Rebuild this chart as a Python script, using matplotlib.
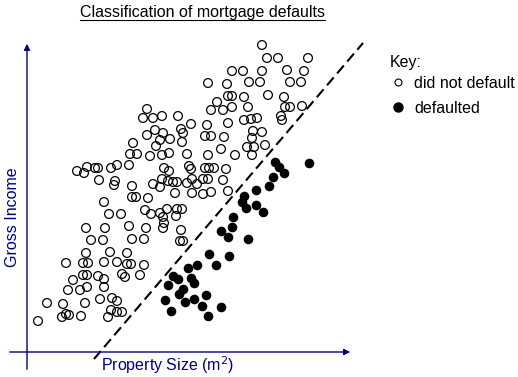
import numpy as np
import matplotlib
matplotlib.use("Agg")
import matplotlib.pyplot as plt
from matplotlib.lines import Line2D

plt.rcParams['font.family'] = ['Liberation Sans', 'DejaVu Sans']

navy = "#000080"

# applicants who did not default (property size, gross income) - arbitrary units
ok_size = [235, 240, 251, 281, 205, 216, 235, 260, 277, 181, 200, 222, 233, 263, 274,
           201, 205, 217, 241, 257, 190, 184, 196, 205, 221, 258, 263, 275,
           120, 116, 126, 135, 151, 164, 180, 201, 217, 224, 230, 254, 255,
           154, 156, 128, 120, 136, 178, 184, 197, 226, 235, 225,
           106, 129, 133, 143, 155, 103, 110, 123, 135, 142, 160, 181, 194, 208,
           220, 227, 238, 225,
           50, 57, 60, 68, 71, 84, 90, 102, 137, 142, 162, 164, 178, 182, 187, 199,
           72, 88, 87, 105, 126, 133, 135, 141, 146, 150, 160, 165, 170, 176, 181, 196,
           148, 77, 105, 109, 121, 165, 176, 184, 201,
           82, 94, 118, 124, 133, 140, 150, 155, 149, 136, 137,
           59, 78, 102, 119, 136, 154, 64, 76, 105, 117, 153, 156,
           59, 83, 100, 39, 56, 61, 77, 90, 100, 104, 117,
           46, 56, 60, 71, 77, 95, 98, 113, 41, 53, 60, 77,
           20, 36, 58, 73, 85, 90, 11, 35, 39, 42, 54, 81, 84, 90, 95]
ok_income = [307, 294, 294, 294, 281, 281, 281, 282, 281, 269, 268, 270, 270, 270, 270,
             256, 256, 255, 257, 255, 250, 242, 242, 245, 245, 245, 245, 246,
             243, 234, 234, 236, 236, 228, 227, 229, 232, 233, 234, 236, 232,
             223, 219, 222, 217, 219, 216, 216, 215, 221, 220, 214,
             209, 206, 212, 213, 210, 198, 198, 196, 197, 199, 198, 197, 203, 197,
             205, 205, 207, 197,
             181, 179, 185, 184, 184, 184, 187, 187, 184, 181, 186, 183, 184, 184, 184, 183,
             172, 171, 167, 166, 168, 165, 173, 171, 170, 170, 169, 173, 168, 173, 173, 172,
             159, 150, 155, 155, 154, 159, 158, 160, 161,
             138, 138, 142, 138, 139, 143, 143, 143, 136, 135, 129,
             124, 124, 126, 124, 124, 122, 112, 112, 113, 113, 111, 111,
             99, 100, 99, 89, 89, 89, 90, 90, 88, 88, 87,
             72, 77, 77, 76, 73, 78, 75, 77, 62, 62, 65, 65,
             49, 48, 49, 53, 54, 51, 31, 35, 38, 37, 36, 35, 42, 40, 40]

# applicants who defaulted
bad_size = [248, 252, 257, 282, 246, 242, 229, 217, 215, 219, 229, 236, 206, 205, 194,
            201, 221, 182, 202, 189, 170, 161, 146, 151, 164, 167, 141, 156, 152, 138,
            158, 167, 179, 175, 194, 144, 181]
bad_income = [190, 185, 179, 189, 175, 166, 162, 156, 150, 144, 147, 140, 135, 125, 121,
              115, 113, 98, 96, 87, 87, 84, 76, 73, 74, 69, 67, 63, 58, 52,
              50, 53, 57, 46, 45, 41, 36]

# classification boundary end points
bound_size = [67, 336]
bound_income = [-7, 309]

fig = plt.figure(figsize=(5.18, 3.77), dpi=100)
ax = fig.add_axes([0, 0, 1, 1])
ax.set_xlim(-27, 491)
ax.set_ylim(-25, 352)
ax.axis("off")

ax.scatter(ok_size, ok_income, s=40, facecolors="none", edgecolors="black",
           linewidths=0.9, zorder=3)
ax.scatter(bad_size, bad_income, s=48, color="black", linewidths=0, zorder=3)

ax.plot(bound_size, bound_income, color="black", lw=1.5, dashes=(5, 2.5), zorder=2)

# axes with arrow heads
ax.annotate("", xy=(0, 311), xytext=(0, -20),
            arrowprops=dict(arrowstyle="-|>", color=navy, lw=1, mutation_scale=9))
ax.annotate("", xy=(326, 0), xytext=(-20, 0),
            arrowprops=dict(arrowstyle="-|>", color=navy, lw=1, mutation_scale=9))

ax.text(-14, 135, "Gross Income", rotation=90, color=navy, fontsize=11.5,
        ha="center", va="center")
ax.text(141, -13, "Property Size (m$^2$)", color=navy, fontsize=11.5,
        ha="center", va="center")

title = ax.text(175.5, 339, "Classification of mortgage defaults", fontsize=11.5,
                ha="center", va="center")

# key
ax.text(363, 289, "Key:", fontsize=11.5, ha="left", va="center")
handles = [Line2D([], [], ls="none", marker="o", ms=5, mfc="none", mec="black", mew=0.8),
           Line2D([], [], ls="none", marker="o", ms=6.5, mfc="black", mec="black")]
leg = ax.legend(handles, ["did not default", "defaulted"],
                loc="upper left", bbox_to_anchor=(388 / 518, 1 - 76 / 377),
                frameon=False, fontsize=11.5,
                handlelength=1.2, handletextpad=0.45, labelspacing=0.6,
                borderpad=0, borderaxespad=0)

# underline the title
fig.canvas.draw()
bb = title.get_window_extent().transformed(ax.transData.inverted())
ax.plot([bb.x0, bb.x1], [bb.y0 + 1, bb.y0 + 1], color="black", lw=0.8)

fig.savefig("out.png", dpi=100)
